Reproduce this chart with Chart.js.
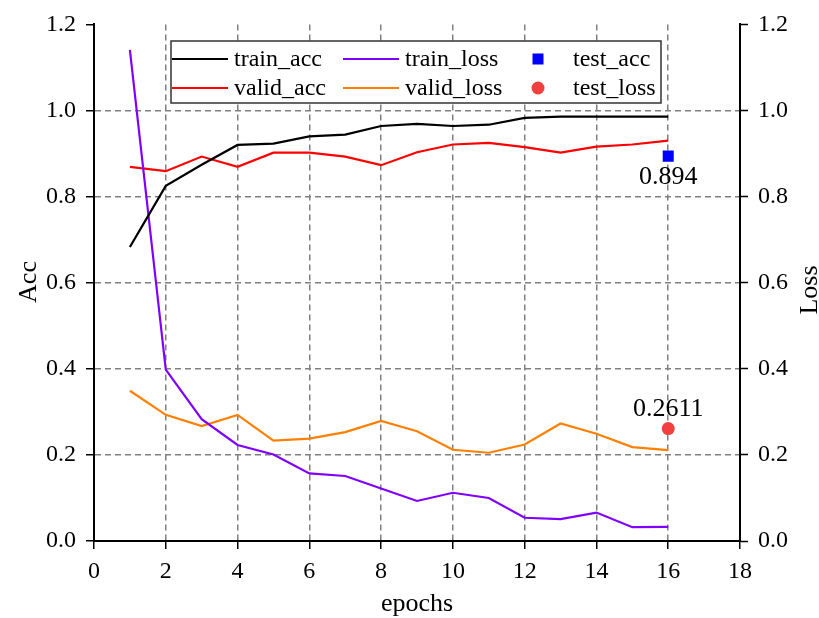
<!DOCTYPE html>
<html>
<head>
<meta charset="utf-8">
<script src="https://cdn.jsdelivr.net/npm/chart.js@4"></script>
<style>
  html, body { margin: 0; padding: 0; background: #fff; }
  canvas { display: block; }
</style>
</head>
<body>
<canvas id="c" width="819" height="618"></canvas>
<script>
// Training history per epoch
const epochs = [1, 2, 3, 4, 5, 6, 7, 8, 9, 10, 11, 12, 13, 14, 15, 16];
const trainAcc  = [0.683, 0.825, 0.874, 0.920, 0.923, 0.940, 0.944, 0.964, 0.969, 0.964, 0.967, 0.983, 0.986, 0.986, 0.986, 0.986];
const validAcc  = [0.869, 0.859, 0.893, 0.869, 0.902, 0.902, 0.893, 0.873, 0.903, 0.921, 0.925, 0.915, 0.902, 0.916, 0.921, 0.930];
const trainLoss = [1.141, 0.398, 0.283, 0.223, 0.201, 0.157, 0.151, 0.122, 0.093, 0.112, 0.100, 0.054, 0.051, 0.066, 0.032, 0.033];
const validLoss = [0.349, 0.293, 0.267, 0.293, 0.233, 0.238, 0.253, 0.279, 0.255, 0.212, 0.205, 0.224, 0.273, 0.249, 0.218, 0.211];

// Final evaluation on the test set
const testEpoch = 16;
const testAcc = 0.894;
const testLoss = 0.2611;

// Axis ticks
const xTicks = [0, 2, 4, 6, 8, 10, 12, 14, 16, 18];
const yTicks = [0.0, 0.2, 0.4, 0.6, 0.8, 1.0, 1.2];

const SERIF = "'Liberation Serif', 'Times New Roman', Times, serif";
const GRID = '#808080';

const toPoints = (xs, ys) => xs.map((x, i) => ({ x, y: ys[i] }));

const lineDs = (label, values, color, axis) => ({
  label, data: toPoints(epochs, values), yAxisID: axis,
  borderColor: color, backgroundColor: color, borderWidth: 2.2,
  pointRadius: 0, tension: 0, fill: false
});

const datasets = [
  lineDs('train_acc', trainAcc, '#000000', 'y'),
  lineDs('train_loss', trainLoss, '#8000ff', 'y1'),
  { label: 'test_acc', data: [{ x: testEpoch, y: testAcc }], yAxisID: 'y',
    showLine: false, pointStyle: 'rect', pointRadius: 7.8, pointHoverRadius: 7.8,
    pointBackgroundColor: '#0000ff', pointBorderWidth: 0, borderColor: '#0000ff', backgroundColor: '#0000ff' },
  lineDs('valid_acc', validAcc, '#ff0000', 'y'),
  lineDs('valid_loss', validLoss, '#ff8000', 'y1'),
  { label: 'test_loss', data: [{ x: testEpoch, y: testLoss }], yAxisID: 'y1',
    showLine: false, pointStyle: 'circle', pointRadius: 6.5, pointHoverRadius: 6.5,
    pointBackgroundColor: '#f24040', pointBorderWidth: 0, borderColor: '#f24040', backgroundColor: '#f24040' }
];

// Value labels next to the test markers (dy relative to the marker centre)
const valueLabels = { test_acc: 21, test_loss: -19.5 };

// Legend grid: 3 columns x 2 rows inside the plot
const legendBox = { left: 171, top: 41, right: 661, bottom: 103 };
const legendRows = [59, 88];
const legendCols = [172, 343, 538];

const overlay = {
  id: 'overlay',
  afterDraw(chart) {
    const ctx = chart.ctx;
    ctx.save();

    // value annotations
    ctx.fillStyle = '#000';
    ctx.font = '26px ' + SERIF;
    ctx.textAlign = 'center';
    ctx.textBaseline = 'middle';
    chart.data.datasets.forEach((ds, i) => {
      if (!(ds.label in valueLabels)) return;
      const pt = chart.getDatasetMeta(i).data[0];
      ctx.fillText(String(ds.data[0].y), pt.x, pt.y + valueLabels[ds.label]);
    });

    // legend
    const b = legendBox;
    ctx.fillStyle = '#fff';
    ctx.fillRect(b.left, b.top, b.right - b.left, b.bottom - b.top);
    ctx.strokeStyle = '#333';
    ctx.lineWidth = 1.5;
    ctx.strokeRect(b.left, b.top, b.right - b.left, b.bottom - b.top);
    ctx.font = '24px ' + SERIF;
    ctx.textAlign = 'left';
    ctx.textBaseline = 'middle';
    chart.data.datasets.forEach((ds, i) => {
      const col = i % 3, row = Math.floor(i / 3);
      const x = legendCols[col], y = legendRows[row];
      const color = ds.pointBackgroundColor || ds.borderColor;
      if (ds.showLine === false) {
        ctx.fillStyle = color;
        if (ds.pointStyle === 'rect') {
          ctx.fillRect(x - 5.5, y - 5.5, 11, 11);
        } else {
          ctx.beginPath();
          ctx.arc(x, y, 6.5, 0, Math.PI * 2);
          ctx.fill();
        }
        ctx.fillStyle = '#000';
        ctx.fillText(ds.label, x + 35, y + 1);
      } else {
        ctx.strokeStyle = ds.borderColor;
        ctx.lineWidth = 2.2;
        ctx.beginPath();
        ctx.moveTo(x, y);
        ctx.lineTo(x + 56, y);
        ctx.stroke();
        ctx.fillStyle = '#000';
        ctx.fillText(ds.label, x + 62, y + 1);
      }
    });

    // axis titles
    const a = chart.chartArea;
    ctx.fillStyle = '#000';
    ctx.font = '26px ' + SERIF;
    ctx.textAlign = 'center';
    ctx.textBaseline = 'middle';
    ctx.fillText('epochs', (a.left + a.right) / 2, 604);
    ctx.save();
    ctx.translate(29, 282);
    ctx.rotate(-Math.PI / 2);
    ctx.fillText('Acc', 0, 0);
    ctx.restore();
    ctx.save();
    ctx.translate(810, 290);
    ctx.rotate(-Math.PI / 2);
    ctx.fillText('Loss', 0, 0);
    ctx.restore();

    ctx.restore();
  }
};

const hideEnds = (ends) => (c) => ends.includes(c.tick && Math.round(c.tick.value * 10) / 10) ? 'rgba(0,0,0,0)' : GRID;
const tickFont = { family: SERIF, size: 24 };
const fix = (prop, v) => (scale) => { scale[prop] = v; };

new Chart(document.getElementById('c'), {
  type: 'line',
  data: { datasets },
  options: {
    responsive: false,
    animation: false,
    events: [],
    layout: { padding: { top: 23, left: 0, right: 0, bottom: 0 } },
    plugins: { legend: { display: false }, tooltip: { enabled: false } },
    scales: {
      x: {
        type: 'linear', min: 0, max: 18,
        afterBuildTicks: (s) => { s.ticks = xTicks.map(v => ({ value: v })); },
        afterFit: fix('height', 77),
        ticks: { color: '#000', font: tickFont, padding: 8 },
        grid: { color: hideEnds([0, 18]), lineWidth: 1.5, tickColor: '#000', tickWidth: 1.5, tickLength: 8, tickBorderDash: [] },
        border: { display: true, color: '#000', width: 2, dash: [6, 4] }
      },
      y: {
        type: 'linear', position: 'left', min: 0, max: 1.2,
        afterBuildTicks: (s) => { s.ticks = yTicks.map(v => ({ value: v })); },
        afterFit: fix('width', 94),
        ticks: { color: '#000', font: tickFont, padding: 10, callback: (v) => Number(v).toFixed(1) },
        grid: { color: hideEnds([0, 1.2]), lineWidth: 1.5, tickColor: '#000', tickWidth: 1.5, tickLength: 8, tickBorderDash: [] },
        border: { display: true, color: '#000', width: 2, dash: [6, 4] }
      },
      y1: {
        type: 'linear', position: 'right', min: 0, max: 1.2,
        afterBuildTicks: (s) => { s.ticks = yTicks.map(v => ({ value: v })); },
        afterFit: fix('width', 79),
        ticks: { color: '#000', font: tickFont, padding: 10, callback: (v) => Number(v).toFixed(1) },
        grid: { drawOnChartArea: false, color: '#000', tickColor: '#000', tickWidth: 1.5, tickLength: 8, tickBorderDash: [] },
        border: { display: true, color: '#000', width: 2 }
      }
    }
  },
  plugins: [overlay]
});
</script>
</body>
</html>
